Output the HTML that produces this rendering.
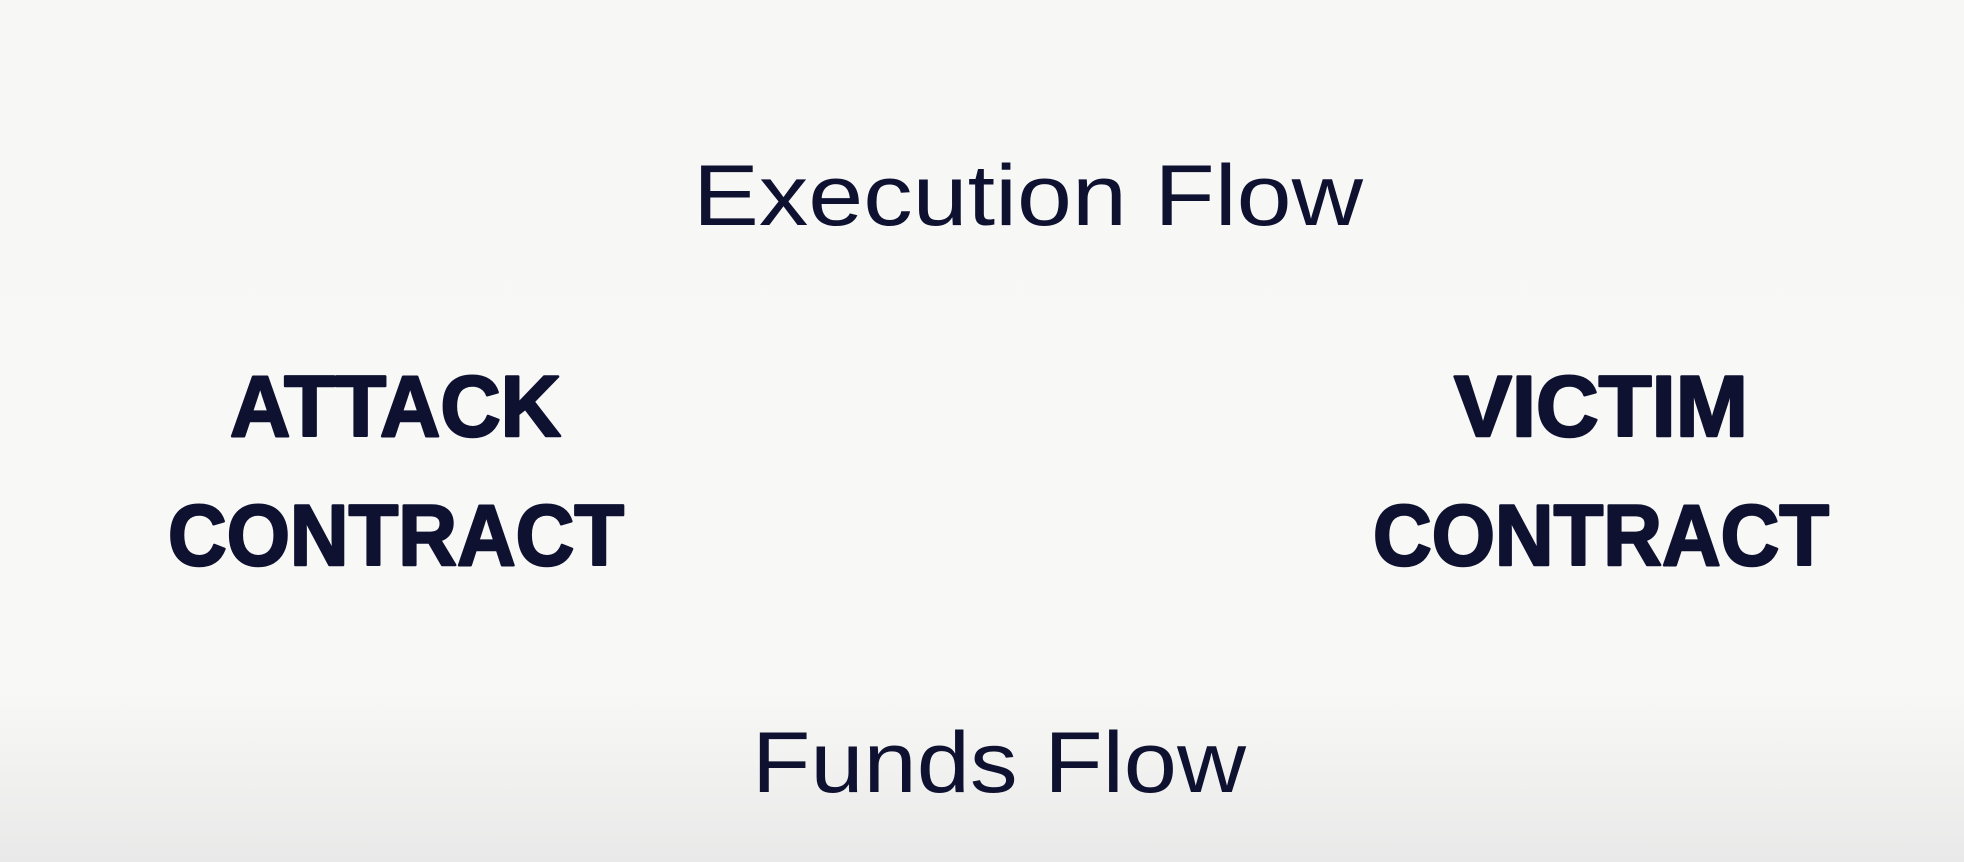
<!DOCTYPE html>
<html><head><meta charset="utf-8"><style>
html,body{margin:0;padding:0;width:1964px;height:862px;overflow:hidden;background:#f8f8f6}
svg{display:block}
</style></head><body>
<svg width="1964" height="862" viewBox="0 0 1964 862">
<defs><linearGradient id="bg" x1="0" y1="0" x2="0" y2="1">
<stop offset="0" stop-color="#f7f7f5"/><stop offset="0.8" stop-color="#f8f8f6"/><stop offset="1" stop-color="#e9e9e9"/></linearGradient></defs>
<rect width="1964" height="862" fill="url(#bg)"/>
<g fill="#0e1130" font-family="Liberation Sans, sans-serif">
<text x="693" y="225" font-size="86" textLength="670" lengthAdjust="spacingAndGlyphs">Execution Flow</text>
<text x="752" y="792" font-size="86" textLength="494" lengthAdjust="spacingAndGlyphs">Funds Flow</text>
<g font-weight="bold" font-size="86" stroke="#0e1130" stroke-width="2.5" stroke-linejoin="round">
<text x="230" y="436" textLength="331" lengthAdjust="spacingAndGlyphs">ATTACK</text>
<text x="168" y="565" textLength="456" lengthAdjust="spacingAndGlyphs">CONTRACT</text>
</g>
<g font-weight="bold" font-size="86" stroke="#0e1130" stroke-width="2.5" stroke-linejoin="round">
<text x="1454" y="436" textLength="294" lengthAdjust="spacingAndGlyphs">VICTIM</text>
<text x="1373" y="565" textLength="456" lengthAdjust="spacingAndGlyphs">CONTRACT</text>
</g>
</g>
</svg>
</body></html>
